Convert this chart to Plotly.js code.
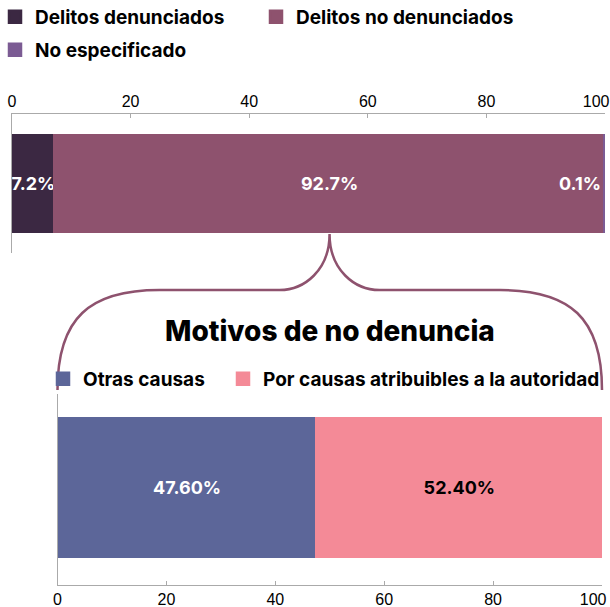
<!DOCTYPE html>
<html>
<head>
<meta charset="utf-8">
<script src="https://cdn.plot.ly/plotly-3.0.1.min.js"></script>
<style>html,body{margin:0;padding:0;background:#fff;}#chart{width:610px;height:607px;}</style>
</head>
<body>
<div id="chart"></div>
<script>
// ---- data ----
const topCategory = ['Delitos'];
const topSeries = ['Delitos denunciados', 'Delitos no denunciados', 'No especificado'];
const topValues = [7.2, 92.7, 0.1];
const bottomCategory = ['Motivos'];
const bottomSeries = ['Otras causas', 'Por causas atribuibles a la autoridad'];
const bottomValues = [47.6, 52.4];
const tickVals = [0, 20, 40, 60, 80, 100];
const tickText = ['0', '20', '40', '60', '80', '100'];
const bottomTitle = 'Motivos de no denuncia';

// ---- styles ----
const topColors = ['#3b2842', '#8e526e', '#7b5b93'];
const bottomColors = ['#5c6699', '#f48a97'];
const bottomTextColors = ['#ffffff', '#000000'];
const boldFont = 'Inter, "Open Sans", sans-serif';
const tickFont = '"Liberation Sans", Arial, sans-serif';

const W = 610, H = 607;
const X1 = [12, 605], Y1 = [114, 253];
const X2 = [57.5, 602], Y2 = [394, 585];
const fx = p => p / W;
const fy = p => 1 - p / H;
const edge = 2.5; // same-colour outline (also enlarges legend squares)

// one legend box per entry so each can sit where the reference puts it
const topLegendIds = ['legend', 'legend4', 'legend3'];
const topLegendPos = [[-5, -2], [256, -2], [-5, 31]];
const bottomLegendIds = ['legend2', 'legend5'];
const bottomLegendPos = [[43, 360], [223, 360]];

// last tick label pulled inside the page (as in the reference)
const NB = '\u00a0';
const tickTextShifted = tickText.map((t, i) => i === tickText.length - 1 ? t + NB + NB + NB + NB : t);

const traces = [];
topSeries.forEach((name, i) => {
  const last = i === topSeries.length - 1;
  traces.push({
    type: 'bar', orientation: 'h', name: name,
    x: [topValues[i]], y: topCategory,
    xaxis: 'x', yaxis: 'y', width: 0.70,
    marker: {color: topColors[i], line: {color: topColors[i], width: edge}},
    text: last ? [''] : [topValues[i].toFixed(1) + '%'],
    textposition: 'inside', insidetextanchor: 'middle', constraintext: 'none', textangle: 0,
    textfont: {family: boldFont, size: 18, color: '#ffffff', weight: 700},
    legend: topLegendIds[i],
    hoverinfo: 'skip'
  });
});
bottomSeries.forEach((name, i) => {
  traces.push({
    type: 'bar', orientation: 'h', name: name,
    x: [bottomValues[i]], y: bottomCategory,
    xaxis: 'x2', yaxis: 'y2', width: 0.725,
    marker: {color: bottomColors[i], line: {color: bottomColors[i], width: edge}},
    text: [bottomValues[i].toFixed(2) + '%'],
    textposition: 'inside', insidetextanchor: 'middle', constraintext: 'none', textangle: 0,
    textfont: {family: boldFont, size: 18, color: bottomTextColors[i], weight: 700},
    legend: bottomLegendIds[i],
    hoverinfo: 'skip'
  });
});

// brace geometry derived from the data / axes
const apex = X1[0] + (topValues[0] + topValues[1] / 2) / 100 * (X1[1] - X1[0]);
const barBottom = 234;
const flatY = 290, endY = 390;
const L = X2[0], R = X2[1];
const P = (x, y) => fx(x).toFixed(5) + ',' + fy(y).toFixed(5);
const bracePath =
  'M' + P(L, endY) +
  ' C' + P(L, 318) + ' ' + P(L + 32, flatY) + ' ' + P(L + 102, flatY) +
  ' L' + P(apex - 50, flatY) +
  ' C' + P(apex - 25, flatY) + ' ' + P(apex, 270) + ' ' + P(apex, barBottom) +
  ' C' + P(apex, 270) + ' ' + P(apex + 25, flatY) + ' ' + P(apex + 50, flatY) +
  ' L' + P(R - 102, flatY) +
  ' C' + P(R - 32, flatY) + ' ' + P(R, 318) + ' ' + P(R, endY);

const axisCommon = {
  range: [0, 100], tickvals: tickVals, ticktext: tickTextShifted, ticks: 'inside', ticklen: 4,
  tickcolor: '#aaaaaa', showline: true, linecolor: '#aaaaaa', linewidth: 1,
  showgrid: false, zeroline: false, fixedrange: true, ticklabeloverflow: 'allow',
  tickfont: {family: tickFont, size: 16, color: '#000000'}
};
const legendCommon = {
  orientation: 'h', xanchor: 'left', yanchor: 'top',
  font: {family: boldFont, size: 19, color: '#000000', weight: 700},
  bgcolor: 'rgba(0,0,0,0)', itemclick: false, itemdoubleclick: false
};

const layout = {
  width: W, height: H,
  margin: {l: 0, r: 0, t: 0, b: 0, autoexpand: false},
  paper_bgcolor: '#ffffff', plot_bgcolor: '#ffffff',
  barmode: 'stack', showlegend: true, hovermode: false,
  xaxis: Object.assign({}, axisCommon, {domain: [fx(X1[0]), fx(X1[1])], side: 'top', anchor: 'y'}),
  yaxis: {domain: [fy(Y1[1]), fy(Y1[0])], type: 'category', range: [-0.5, 0.5],
          showticklabels: false, ticks: '', showline: true, linecolor: '#aaaaaa',
          showgrid: false, zeroline: false, fixedrange: true, anchor: 'x'},
  xaxis2: Object.assign({}, axisCommon, {domain: [fx(X2[0]), fx(X2[1])], side: 'bottom', anchor: 'y2'}),
  yaxis2: {domain: [fy(Y2[1]), fy(Y2[0])], type: 'category', range: [-0.51, 0.49],
           showticklabels: false, ticks: '', showline: true, linecolor: '#aaaaaa',
           showgrid: false, zeroline: false, fixedrange: true, anchor: 'x2'},
  shapes: [{type: 'path', xref: 'paper', yref: 'paper', path: bracePath,
            line: {color: topColors[1], width: 2.5}, layer: 'above'}],
  annotations: [
    {xref: 'paper', yref: 'paper', x: 0.5 * (fx(L) + fx(R)), y: fy(331), xanchor: 'center', yanchor: 'middle',
     text: bottomTitle, showarrow: false,
     font: {family: boldFont, size: 28, color: '#000000', weight: 800}},
    {xref: 'x', yref: 'y', x: topValues.reduce((a, b) => a + b, 0), y: topCategory[0],
     xanchor: 'right', yanchor: 'middle', xshift: -2, showarrow: false,
     text: topValues[2].toFixed(1) + '%',
     font: {family: boldFont, size: 18, color: '#ffffff', weight: 700}}
  ]
};
topLegendIds.forEach((id, i) => {
  layout[id] = Object.assign({}, legendCommon, {x: fx(topLegendPos[i][0]), y: fy(topLegendPos[i][1])});
});
bottomLegendIds.forEach((id, i) => {
  layout[id] = Object.assign({}, legendCommon, {x: fx(bottomLegendPos[i][0]), y: fy(bottomLegendPos[i][1])});
});

Plotly.newPlot('chart', traces, layout, {displayModeBar: false, staticPlot: true});
</script>
</body>
</html>
